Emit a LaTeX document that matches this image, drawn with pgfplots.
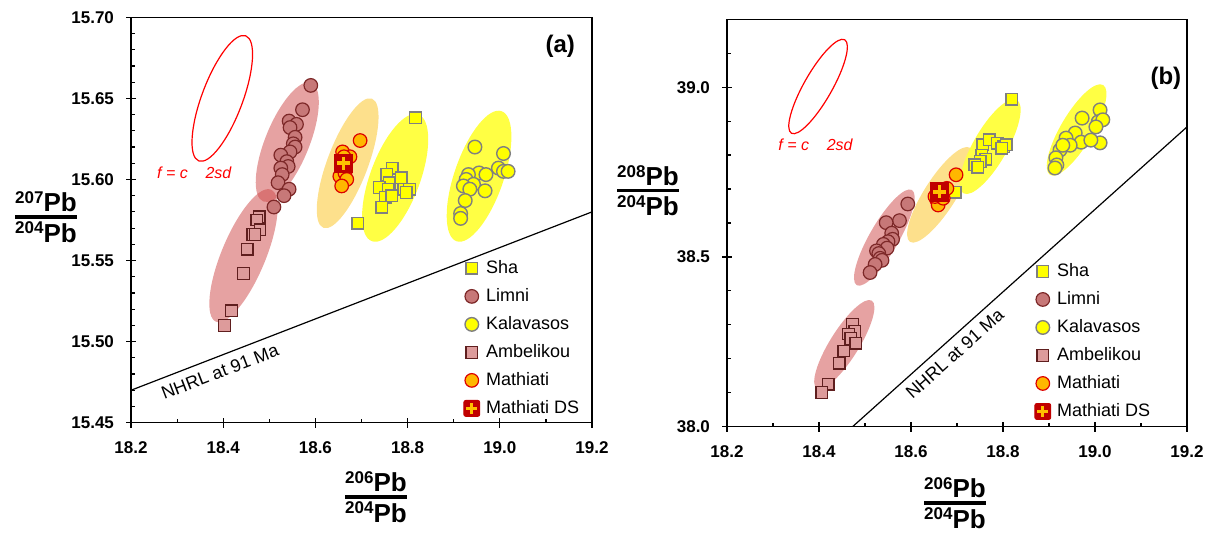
\documentclass[border=0pt]{standalone}
\usepackage{fontspec}
\setmainfont{Liberation Sans}
\usepackage{amsmath}
\usepackage{pgfplots}
\pgfplotsset{compat=1.18}

\definecolor{shaY}{RGB}{255,255,0}
\definecolor{mgray}{RGB}{128,128,128}
\definecolor{limF}{RGB}{199,120,120}
\definecolor{limD}{RGB}{125,40,40}
\definecolor{ambF}{RGB}{221,155,155}
\definecolor{ambD}{RGB}{95,30,30}
\definecolor{matF}{RGB}{255,183,0}
\definecolor{matD}{RGB}{220,0,0}
\definecolor{dsR}{RGB}{192,0,0}
\definecolor{dsO}{RGB}{255,192,0}
\definecolor{ellR}{RGB}{205,70,70}
\definecolor{ellO}{RGB}{253,224,140}
\definecolor{ellY}{RGB}{255,255,68}

\newcommand\iso[1]{\raisebox{4.3pt}{\fontsize{8.5}{8.5}\selectfont\bfseries #1}{\fontsize{13}{13}\selectfont\bfseries Pb}}
\newcommand\pbfrac[1]{$\genfrac{}{}{1.6pt}{1}{\hbox{\iso{#1}}}{\hbox{\iso{204}}}$}

\pgfplotsset{
  pbaxis/.style={
    scale only axis, clip=true,
    axis line style={line width=0.7pt, black},
    tick pos=left, tick align=inside,
    major tick length=2.5pt, minor tick length=2pt,
    tick style={black, line width=0.6pt},
    xmin=18.2, xmax=19.2,
    xtick={18.2,18.4,18.6,18.8,19.0,19.2},
    minor xtick={18.3,18.5,18.7,18.9,19.1},
    extra x ticks={18.2,18.4,18.6,18.8,19.0,19.2},
    extra x tick labels={},
    extra x tick style={tick align=outside},
    ticklabel style={font=\fontsize{8.5}{10}\selectfont\bfseries},
    /pgf/number format/assume math mode=true,
    xticklabel style={/pgf/number format/fixed, /pgf/number format/fixed zerofill, /pgf/number format/precision=1, yshift=-6pt},
    yticklabel style={xshift=-5pt},
    legend cell align=left,
    legend style={draw=none, fill=none, inner sep=0pt, font=\fontsize{9}{10}\selectfont,
      row sep=4pt, nodes={inner sep=1pt, text height=6.5pt, text depth=1.5pt},
      /tikz/every odd column/.append style={column sep=2pt},
      anchor=north west, xshift=-4.5pt, yshift=5pt},
  },
  mk/.style={only marks, legend image code/.code={\draw[##1] plot coordinates {(0pt,0pt)};}},
  sha/.style={mk, mark=square*, mark size=2.9pt, mark options={fill=shaY, draw=mgray, line width=0.7pt}},
  lim/.style={mk, mark=*, mark size=3.4pt, mark options={fill=limF, draw=limD, line width=0.6pt}},
  kal/.style={mk, mark=*, mark size=3.4pt, mark options={fill=shaY, draw=mgray, line width=0.7pt}},
  amb/.style={mk, mark=square*, mark size=2.9pt, mark options={fill=ambF, draw=ambD, line width=0.6pt}},
  mat/.style={mk, mark=*, mark size=3.4pt, mark options={fill=matF, draw=matD, line width=0.6pt}},
  dsq/.style={only marks, mark=square*, mark size=4.6pt, mark options={fill=dsR, draw=dsR, rounded corners=1pt},
    legend image code/.code={\draw[dsR, fill=dsR, rounded corners=1pt] (-4pt,-4pt) rectangle (4pt,4pt);
      \draw[dsO, line width=1.6pt] (-2.7pt,0pt)--(2.7pt,0pt) (0pt,-2.7pt)--(0pt,2.7pt);}},
  dsp/.style={only marks, mark=+, mark size=3.2pt, mark options={draw=dsO, line width=1.9pt}, forget plot},
}

\begin{document}
\begin{tikzpicture}
\useasboundingbox (0,0) rectangle (605.5pt,267pt);

% ---------------- panel (a)
\begin{axis}[pbaxis, at={(65.5pt,55.65pt)}, anchor=south west,
  width=230.5pt, height=202.7pt,
  ymin=15.45, ymax=15.70,
  ytick={15.45,15.50,15.55,15.60,15.65,15.70},
  minor ytick={15.46,15.47,15.48,15.49,15.51,15.52,15.53,15.54,15.56,15.57,15.58,15.59,15.61,15.62,15.63,15.64,15.66,15.67,15.68,15.69},
  extra y ticks={15.45,15.50,15.55,15.60,15.65,15.70},
  extra y tick labels={},
  extra y tick style={tick align=outside},
  yticklabel style={/pgf/number format/fixed, /pgf/number format/fixed zerofill, /pgf/number format/precision=2},
  legend style={at={(axis description cs:0.7397,0.3816)}},
]
\fill[ellR, opacity=0.5] (axis cs:18.444,15.553) ellipse [x radius=35.75pt, y radius=11pt, rotate=67.4];
\fill[ellR, opacity=0.5] (axis cs:18.539,15.623) ellipse [x radius=32pt, y radius=11pt, rotate=67.9];
\fill[ellO] (axis cs:18.670,15.610) ellipse [x radius=34.5pt, y radius=10.2pt, rotate=69.4];
\fill[ellY] (axis cs:18.773,15.601) ellipse [x radius=33.75pt, y radius=12.5pt, rotate=69.8];
\fill[ellY] (axis cs:18.955,15.602) ellipse [x radius=34.4pt, y radius=12.3pt, rotate=70.9];
\draw[red, line width=0.6pt] (axis cs:18.398,15.650) ellipse [x radius=33.4pt, y radius=10.2pt, rotate=69.4];
\addplot[black, line width=0.6pt, forget plot] coordinates {(18.2,15.470) (19.2,15.580)};
\node[rotate=21.1, font=\fontsize{9}{10}\selectfont, inner sep=0pt] at (axis cs:18.393,15.4815) {NHRL at 91 Ma};
\node[anchor=west, text=red, font=\fontsize{8}{10}\selectfont\itshape, inner sep=0pt] at (axis cs:18.256,15.604) {f = c\phantom{ ±} 2sd};
\node[font=\fontsize{12}{14}\selectfont\bfseries] at (axis cs:19.131,15.682) {(a)};

\addplot[sha] table {
x y
18.817 15.638
18.767 15.607
18.755 15.603
18.786 15.601
18.760 15.598
18.738 15.595
18.758 15.594
18.792 15.594
18.804 15.594
18.797 15.592
18.751 15.589
18.766 15.590
18.744 15.583
18.692 15.573
};
\addlegendentry{Sha}
\addplot[lim] table {
x y
18.590 15.658
18.572 15.643
18.543 15.636
18.559 15.634
18.545 15.632
18.556 15.626
18.552 15.622
18.556 15.620
18.545 15.617
18.525 15.615
18.538 15.611
18.541 15.608
18.525 15.607
18.528 15.603
18.519 15.598
18.543 15.594
18.532 15.590
18.510 15.583
};
\addlegendentry{Limni}
\addplot[kal] table {
x y
18.946 15.620
19.008 15.616
18.997 15.607
19.008 15.605
19.018 15.605
18.955 15.604
18.970 15.603
18.932 15.603
18.927 15.600
18.943 15.597
18.921 15.596
18.935 15.594
18.968 15.593
18.925 15.587
18.915 15.579
18.915 15.576
};
\addlegendentry{Kalavasos}
\addplot[amb] table {
x y
18.478 15.577
18.473 15.575
18.480 15.569
18.464 15.566
18.469 15.566
18.452 15.557
18.444 15.542
18.418 15.519
18.403 15.510
};
\addlegendentry{Ambelikou}
\addplot[mat] table {
x y
18.697 15.624
18.659 15.617
18.675 15.614
18.662 15.614
18.653 15.602
18.664 15.604
18.668 15.600
18.657 15.596
};
\addlegendentry{Mathiati}
\addplot[dsq] table {
x y
18.661 15.610
};
\addlegendentry{Mathiati DS}
\addplot[dsp] table {
x y
18.661 15.610
};
\end{axis}

% ---------------- panel (b)
\begin{axis}[pbaxis, at={(363.5pt,53.65pt)}, anchor=south west,
  width=230pt, height=203.7pt,
  ymin=38.0, ymax=39.2,
  ytick={38.0,38.5,39.0},
  minor ytick={38.1,38.2,38.3,38.4,38.6,38.7,38.8,38.9,39.1},
  extra y ticks={38.0,38.5,39.0},
  extra y tick labels={},
  extra y tick style={tick align=outside},
  yticklabel style={/pgf/number format/fixed, /pgf/number format/fixed zerofill, /pgf/number format/precision=1},
  legend style={at={(axis description cs:0.687,0.382)}},
]
\fill[ellR, opacity=0.5] (axis cs:18.455,38.242) ellipse [x radius=25.9pt, y radius=7.2pt, rotate=57.9];
\fill[ellR, opacity=0.5] (axis cs:18.542,38.557) ellipse [x radius=27.5pt, y radius=7.3pt, rotate=59.9];
\fill[ellO] (axis cs:18.663,38.683) ellipse [x radius=27.9pt, y radius=8pt, rotate=57.5];
\fill[ellY] (axis cs:18.772,38.825) ellipse [x radius=26.9pt, y radius=8.5pt, rotate=60.2];
\fill[ellY] (axis cs:18.960,38.874) ellipse [x radius=26.1pt, y radius=8pt, rotate=59.5];
\draw[red, line width=0.6pt] (axis cs:18.398,39.002) ellipse [x radius=26.9pt, y radius=7pt, rotate=60.3];
\addplot[black, line width=0.6pt, forget plot] coordinates {(18.473,38.0) (19.2,38.883)};
\node[rotate=41.9, font=\fontsize{9}{10}\selectfont, inner sep=0pt] at (axis cs:18.695,38.215) {NHRL at 91 Ma};
\node[anchor=west, text=red, font=\fontsize{8}{10}\selectfont\itshape, inner sep=0pt] at (axis cs:18.311,38.830) {f = c\phantom{ ±} 2sd};
\node[font=\fontsize{12}{14}\selectfont\bfseries] at (axis cs:19.154,39.026) {(b)};

\addplot[sha] table {
x y
18.819 38.965
18.756 38.830
18.770 38.845
18.788 38.835
18.801 38.825
18.807 38.830
18.797 38.820
18.754 38.800
18.763 38.788
18.750 38.781
18.739 38.771
18.745 38.764
18.696 38.691
};
\addlegendentry{Sha}
\addplot[lim] table {
x y
18.593 38.656
18.575 38.607
18.546 38.601
18.558 38.570
18.560 38.552
18.550 38.545
18.540 38.537
18.548 38.526
18.525 38.518
18.530 38.510
18.533 38.496
18.537 38.490
18.522 38.478
18.511 38.454
};
\addlegendentry{Limni}
\addplot[kal] table {
x y
18.972 38.909
19.011 38.933
19.007 38.898
19.017 38.904
19.002 38.883
19.011 38.836
18.957 38.865
18.937 38.850
18.970 38.838
18.946 38.829
18.924 38.815
18.915 38.792
18.917 38.771
18.913 38.762
18.991 38.844
18.930 38.829
};
\addlegendentry{Kalavasos}
\addplot[amb] table {
x y
18.473 38.302
18.478 38.280
18.464 38.273
18.469 38.260
18.480 38.246
18.454 38.223
18.444 38.187
18.420 38.125
18.406 38.101
};
\addlegendentry{Ambelikou}
\addplot[mat] table {
x y
18.698 38.742
18.678 38.702
18.656 38.668
18.659 38.653
18.670 38.673
18.652 38.678
};
\addlegendentry{Mathiati}
\addplot[dsq] table {
x y
18.662 38.692
};
\addlegendentry{Mathiati DS}
\addplot[dsp] table {
x y
18.662 38.692
};
\end{axis}

% axis labels
\node at (23pt,158.5pt) {\pbfrac{207}};
\node at (324pt,171.65pt) {\pbfrac{208}};
\node at (188pt,18.5pt) {\pbfrac{206}};
\node at (477.5pt,15.5pt) {\pbfrac{206}};
\end{tikzpicture}
\end{document}
